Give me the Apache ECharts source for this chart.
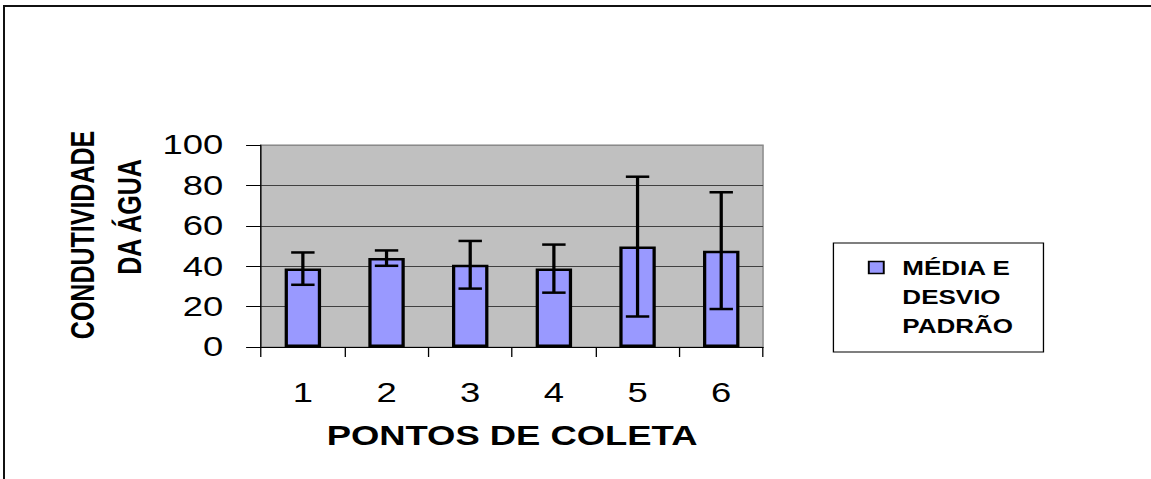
<!DOCTYPE html>
<html>
<head>
<meta charset="utf-8">
<script src="https://cdn.jsdelivr.net/npm/echarts@6/dist/echarts.min.js"></script>
<style>
  html, body { margin: 0; padding: 0; background: #fff; width: 1151px; height: 479px; overflow: hidden; }
  #frame { position: absolute; left: 3px; top: 5px; width: 1300px; height: 600px; border-top: 2px solid #111; border-left: 2px solid #111; }
  #chart { position: absolute; left: 0; top: 0; width: 885px; height: 479px; transform: scaleX(1.3006); transform-origin: 0 0; }
</style>
</head>
<body>
<div id="frame"></div>
<div id="chart"></div>
<script>
// ---- data ----
const categories = ['1', '2', '3', '4', '5', '6'];
const means = [38.8, 44, 40.7, 38.8, 49.7, 47.7];
const stdDev = [8, 3.8, 11.8, 11.9, 34.6, 28.9];
const yTicks = [0, 20, 40, 60, 80, 100];
const seriesName = 'MÉDIA E DESVIO PADRÃO';
const legendLines = ['MÉDIA E', 'DESVIO', 'PADRÃO'];
const xTitle = 'PONTOS DE COLETA';
const yTitleLines = ['CONDUTIVIDADE', 'DA ÁGUA'];

const FONT = 'Arial, "Liberation Sans", sans-serif';
const chart = echarts.init(document.getElementById('chart'), null, { renderer: 'svg' });

const errData = categories.map((c, i) => [i, means[i], stdDev[i]]);

const option = {
  animation: false,
  grid: {
    left: 200.7, right: 298.3, top: 145, bottom: 132,
    show: true, backgroundColor: '#C0C0C0', borderColor: '#808080', borderWidth: 1
  },
  xAxis: {
    type: 'category',
    data: categories,
    name: xTitle,
    nameLocation: 'middle',
    nameGap: 75,
    nameTextStyle: { fontFamily: FONT, fontSize: 28, fontWeight: 'bold', color: '#000' },
    axisLine: { lineStyle: { color: '#000', width: 1 } },
    axisTick: { show: true, inside: false, length: 10, lineStyle: { color: '#000' } },
    axisLabel: { fontFamily: FONT, fontSize: 28, color: '#000', margin: 32 },
    splitLine: { show: false }
  },
  yAxis: {
    type: 'value',
    min: 0, max: 100, interval: 20,
    axisLine: { show: true, lineStyle: { color: '#000', width: 1 } },
    axisTick: { show: true, inside: false, length: 11.5, lineStyle: { color: '#000' } },
    axisLabel: { fontFamily: FONT, fontSize: 28, color: '#000', margin: 29,
      formatter: v => (yTicks.indexOf(v) >= 0 ? String(v) : '') },
    splitLine: { show: true, lineStyle: { color: ['#404040', '#404040', '#404040', '#404040', '#404040', '#8a8a8a'], width: 1 } }
  },
  series: [
    {
      name: seriesName,
      type: 'bar',
      data: means,
      barWidth: 28,
      itemStyle: { color: '#9999FF', borderColor: '#000', borderWidth: 2.5 }
    },
    {
      name: 'erro',
      type: 'custom',
      data: errData,
      encode: { x: 0, y: 1 },
      z: 10,
      renderItem: function (params, api) {
        const idx = api.value(0);
        const m = api.value(1);
        const s = api.value(2);
        const top = api.coord([idx, m + s]);
        const bot = api.coord([idx, m - s]);
        const hw = 9;
        const st = { stroke: '#000', lineWidth: 2.5 };
        return {
          type: 'group',
          children: [
            { type: 'line', shape: { x1: top[0], y1: top[1], x2: bot[0], y2: bot[1] }, style: st },
            { type: 'line', shape: { x1: top[0] - hw, y1: top[1], x2: top[0] + hw, y2: top[1] }, style: st },
            { type: 'line', shape: { x1: bot[0] - hw, y1: bot[1], x2: bot[0] + hw, y2: bot[1] }, style: st }
          ]
        };
      }
    }
  ],
  graphic: [
    // y-axis title (two rotated lines)
    { type: 'text', x: 64, y: 235, rotation: Math.PI / 2,
      style: { text: yTitleLines[0], font: 'bold 25px ' + FONT, fill: '#000', textAlign: 'center', textVerticalAlign: 'middle' } },
    { type: 'text', x: 100, y: 217, rotation: Math.PI / 2,
      style: { text: yTitleLines[1], font: 'bold 25px ' + FONT, fill: '#000', textAlign: 'center', textVerticalAlign: 'middle' } },
    // legend box
    { type: 'rect', shape: { x: 640.8, y: 243, width: 161.5, height: 109 },
      style: { fill: '#fff', stroke: '#000', lineWidth: 1 } },
    { type: 'rect', shape: { x: 668, y: 261.5, width: 11.5, height: 12 },
      style: { fill: '#9999FF', stroke: '#000', lineWidth: 1.5 } },
    { type: 'text', x: 693.8, y: 268,
      style: { text: legendLines[0], font: 'bold 20px ' + FONT, fill: '#000', textVerticalAlign: 'middle' } },
    { type: 'text', x: 693.8, y: 297,
      style: { text: legendLines[1], font: 'bold 20px ' + FONT, fill: '#000', textVerticalAlign: 'middle' } },
    { type: 'text', x: 693.8, y: 326,
      style: { text: legendLines[2], font: 'bold 20px ' + FONT, fill: '#000', textVerticalAlign: 'middle' } }
  ]
};
chart.setOption(option);
</script>
</body>
</html>
